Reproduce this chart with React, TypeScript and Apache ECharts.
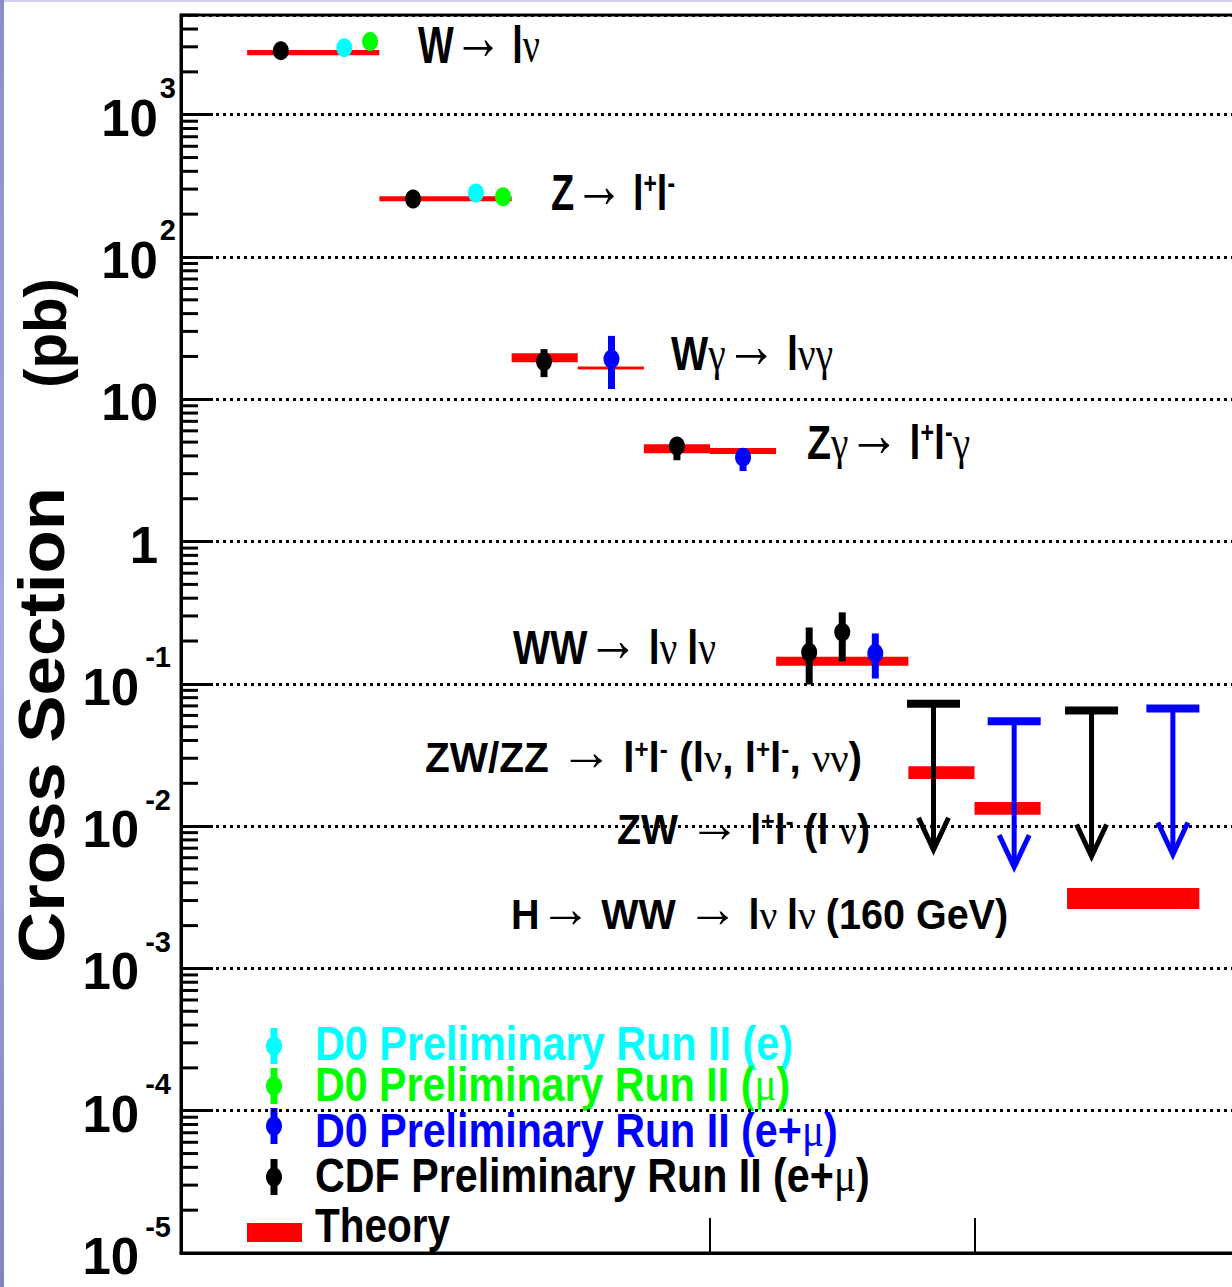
import React, { useEffect, useRef } from 'react';
import * as echarts from 'echarts';

// ---------- axis setup ----------
const X_MIN = 0;
const X_MAX = 16;
const X_TICKS = [8, 12];
const Y_MIN = 1e-5;
const Y_MAX = 5020;
const MINOR_MULT = [2, 3, 4, 5, 6, 7, 8, 9];
const DECADES = [-5, -4, -3, -2, -1, 0, 1, 2, 3];

// ---------- data (cross sections in pb) ----------
// Theory predictions: [xStart, xEnd, low, high]
const theoryBands = [
  [1.0, 3.0, 2622, 2844],      // W -> l nu
  [3.0, 5.0, 246, 267],        // Z -> l+ l-
  [5.0, 6.0, 18.2, 21.1],      // W gamma (CDF)
  [6.0, 7.0, 16.2, 17.0],      // W gamma (D0)
  [7.0, 8.0, 4.17, 4.82],      // Z gamma (CDF)
  [8.0, 9.0, 4.12, 4.54],      // Z gamma (D0)
  [9.0, 11.0, 0.134, 0.155],   // WW
  [11.0, 12.0, 0.0214, 0.0264],// ZW/ZZ
  [12.0, 13.0, 0.0120, 0.0148],// ZW
  [13.4, 15.4, 0.00262, 0.00368], // H -> WW (160 GeV)
];

// Measurements: [x, value, errLow, errHigh]
const cdfPoints = [
  [1.51, 2820, 2820, 2820],
  [3.51, 256, 256, 256],
  [5.49, 18.4, 14.3, 22.5],
  [7.5, 4.69, 3.73, 5.33],
  [9.5, 0.167, 0.099, 0.249],
  [10.0, 0.231, 0.144, 0.318],
];
const d0ePoints = [
  [2.47, 2960, 2960, 2960],
  [4.46, 282, 282, 282],
];
const d0muPoints = [
  [2.86, 3265, 3265, 3265],
  [4.87, 265, 265, 265],
];
const d0emuPoints = [
  [6.51, 19.2, 11.8, 27.9],
  [8.5, 3.92, 3.13, 4.54],
  [10.5, 0.164, 0.109, 0.226],
];

// 95% CL upper limits: [x, limit]
const cdfLimits = [
  [11.38, 0.0724],
  [13.77, 0.065],
];
const d0Limits = [
  [12.6, 0.0547],
  [15.0, 0.0671],
];

const SANS = "'Liberation Sans', Arial, Helvetica, sans-serif";
const SERIF = "'Liberation Serif', 'DejaVu Serif', 'Times New Roman', serif";

const C_BLACK = '#000000';
const C_CYAN = '#00ffff';
const C_GREEN = '#00ff00';
const C_BLUE = '#0000ff';
const C_RED = '#ff0000';

function richFor(size: number) {
  const raise = Math.round(size * 0.32);
  return {
    b: { fontFamily: SANS, fontWeight: 'bold', fontSize: size, lineHeight: size, fill: '#000' },
    s: { fontFamily: SERIF, fontSize: size, lineHeight: size, fill: '#000' },
    a: { fontFamily: SERIF, fontSize: Math.round(size * 1.3), lineHeight: size - raise, padding: [0, 0, raise, 0], fill: '#000' },
    u: { fontFamily: SANS, fontWeight: 'bold', fontSize: Math.round(size * 0.6), lineHeight: Math.round(size * 0.6), verticalAlign: 'top', fill: '#000' },
  } as any;
}

function fitScale(style: any, target: number, fallback: number) {
  try {
    const T: any = (echarts.graphic as any).Text;
    const t = new T({ style });
    const r = t.getBoundingRect();
    if (r && r.width > 1) return target / r.width;
  } catch (e) {
    // ignore
  }
  return fallback;
}

// process labels: [richText, left, centerY, fontSize, targetWidth]
const processLabels: [string, number, number, number, number][] = [
  ['{b|W}{a|→}{s| }{b|l}{s|ν}', 418, 45, 51, 122],
  ['{b|Z}{a|→}{s| }{b|l}{u|+}{b|l}{u|-}', 551, 193, 50, 124],
  ['{b|W}{s|γ}{a|→}{s| }{b|l}{s|νγ}', 671, 353, 49, 162],
  ['{b|Z}{s|γ}{a|→}{s| }{b|l}{u|+}{b|l}{u|-}{s|γ}', 807, 442, 49, 163],
  ['{b|WW}{a|→}{s| }{b|l}{s|ν }{b|l}{s|ν}', 513, 647, 49, 203],
  ['{b|ZW/ZZ }{a|→}{s| }{b|l}{u|+}{b|l}{u|-}{b| (l}{s|ν}{b|, l}{u|+}{b|l}{u|-}{b|, }{s|νν}{b|)}', 425, 758, 42, 437],
  ['{b|ZW }{a|→}{s| }{b|l}{u|+}{b|l}{u|-}{b| (l }{s|ν}{b|)}', 617, 830, 42, 253],
  ['{b|H}{a|→}{s| }{b|WW }{a|→}{s| }{b|l}{s|ν }{b|l}{s|ν }{b|(160 GeV)}', 511, 915, 42, 497],
];

// legend entries: [text, color, markerY, textCenterY, targetWidth]
const legendEntries: [string, string, number, number, number][] = [
  ['{t|D0 Preliminary Run II (e)}', C_CYAN, 1046, 1043, 478],
  ['{t|D0 Preliminary Run II (}{g|μ}{t|)}', C_GREEN, 1086, 1084, 475],
  ['{t|D0 Preliminary Run II (e+}{g|μ}{t|)}', C_BLUE, 1126, 1130, 523],
  ['{t|CDF Preliminary Run II (e+}{g|μ}{t|)}', C_BLACK, 1177, 1175, 555],
];

function errRender(color: string) {
  return (params: any, api: any) => {
    const top = api.coord([api.value(0), api.value(3)]);
    const bot = api.coord([api.value(0), api.value(2)]);
    const h = bot[1] - top[1];
    if (h < 1) return null;
    return {
      type: 'rect',
      shape: { x: top[0] - 3.5, y: top[1], width: 7, height: h },
      style: { fill: color },
    };
  };
}

function limitRender(color: string) {
  return (params: any, api: any) => {
    const p = api.coord([api.value(0), api.value(1)]);
    const L = 146;
    return {
      type: 'group',
      children: [
        { type: 'line', shape: { x1: p[0] - 26.5, y1: p[1], x2: p[0] + 26.5, y2: p[1] }, style: { stroke: color, lineWidth: 8 } },
        { type: 'line', shape: { x1: p[0], y1: p[1], x2: p[0], y2: p[1] + L - 3 }, style: { stroke: color, lineWidth: 5 } },
        {
          type: 'polyline',
          shape: { points: [[p[0] - 15, p[1] + L - 32], [p[0], p[1] + L], [p[0] + 15, p[1] + L - 32]] },
          style: { stroke: color, lineWidth: 5, fill: null, lineJoin: 'miter' },
        },
      ],
    };
  };
}

export default function App() {
  const ref = useRef<HTMLDivElement>(null);

  useEffect(() => {
    if (!ref.current) return;
    const chart = echarts.init(ref.current, null as any, { renderer: 'svg', width: 1232, height: 1287 });

    const minorTicks: number[][] = [];
    DECADES.forEach((d) => {
      MINOR_MULT.forEach((m) => {
        const v = m * Math.pow(10, d);
        if (v < Y_MAX) minorTicks.push([0, v]);
      });
    });

    const graphics: any[] = [];
    // page border strips
    graphics.push({ type: 'rect', left: 0, top: 0, shape: { width: 1232, height: 2 }, style: { fill: '#cfcff5' }, silent: true });
    graphics.push({
      type: 'rect', left: 0, top: 0, shape: { width: 4, height: 1287 },
      style: {
        fill: new (echarts.graphic as any).LinearGradient(0, 0, 0, 1, [
          { offset: 0, color: '#8c8cc8' },
          { offset: 0.5, color: '#a8a8e0' },
          { offset: 1, color: '#8484bc' },
        ]),
      },
      silent: true,
    });

    // axis title
    const titleStyle = { text: 'Cross Section', fontFamily: SANS, fontWeight: 'bold', fontSize: 64, fill: '#000', align: 'center', verticalAlign: 'middle' };
    const titleScale = fitScale(titleStyle, 476, 1.1);
    graphics.push({ type: 'text', x: 42, y: 725, rotation: Math.PI / 2, scaleX: titleScale, style: titleStyle, silent: true });
    const unitStyle = { text: '(pb)', fontFamily: SANS, fontWeight: 'bold', fontSize: 60, fill: '#000', align: 'center', verticalAlign: 'middle' };
    const unitScale = fitScale(unitStyle, 110, 1.0);
    graphics.push({ type: 'text', x: 45, y: 333, rotation: Math.PI / 2, scaleX: unitScale, style: unitStyle, silent: true });

    // process labels
    processLabels.forEach(([txt, x, y, size, w]) => {
      const style = { text: txt, rich: richFor(size), fontFamily: SANS, fontSize: size, align: 'left', verticalAlign: 'middle', fill: '#000' };
      const sx = fitScale(style, w, 0.85);
      graphics.push({ type: 'text', x, y, scaleX: sx, style, silent: true });
    });

    // legend
    legendEntries.forEach(([txt, color, my, ty, w]) => {
      graphics.push({ type: 'rect', shape: { x: 274 - 3.5, y: my - 18, width: 7, height: 36 }, style: { fill: color }, silent: true });
      graphics.push({ type: 'ellipse', shape: { cx: 274, cy: my, rx: 8, ry: 9.5 }, style: { fill: color }, silent: true });
      const style = {
        text: txt,
        rich: {
          t: { fontFamily: SANS, fontWeight: 'bold', fontSize: 48, lineHeight: 48, fill: color },
          g: { fontFamily: SERIF, fontSize: 48, lineHeight: 48, fill: color },
        },
        fontSize: 48,
        align: 'left',
        verticalAlign: 'middle',
        fill: color,
      };
      const sx = fitScale(style, w, 0.86);
      graphics.push({ type: 'text', x: 315, y: ty, scaleX: sx, style, silent: true });
    });
    graphics.push({ type: 'rect', shape: { x: 247, y: 1223, width: 55, height: 19 }, style: { fill: C_RED }, silent: true });
    const thStyle = { text: 'Theory', fontFamily: SANS, fontWeight: 'bold', fontSize: 48, fill: '#000', align: 'left', verticalAlign: 'middle' };
    graphics.push({ type: 'text', x: 315, y: 1225, scaleX: fitScale(thStyle, 135, 0.86), style: thStyle, silent: true });

    const option: any = {
      animation: false,
      backgroundColor: '#ffffff',
      grid: {
        left: 181,
        top: 15,
        width: 1058,
        height: 1238,
        outerBoundsMode: 'none',
        containLabel: false,
        show: true,
        borderColor: '#000',
        borderWidth: 3,
        backgroundColor: 'transparent',
      },
      xAxis: {
        type: 'value',
        min: X_MIN,
        max: X_MAX,
        axisLine: { show: true, onZero: false, lineStyle: { color: '#000', width: 3 } },
        axisTick: { show: true, inside: true, length: 35, customValues: X_TICKS, lineStyle: { color: '#000', width: 2 } },
        axisLabel: { show: false },
        splitLine: { show: false },
      },
      yAxis: {
        type: 'log',
        logBase: 10,
        min: Y_MIN,
        max: Y_MAX,
        splitNumber: 10,
        axisLine: { show: true, lineStyle: { color: '#000', width: 3 } },
        axisTick: { show: true, inside: true, length: 32, lineStyle: { color: '#000', width: 3 } },
        splitLine: { show: true, lineStyle: { color: '#000', width: 3, type: [3, 4] } },
        axisLabel: {
          show: true,
          margin: 5,
          showMaxLabel: false,
          formatter: (v: number) => {
            const lg = Math.log10(v);
            const e = Math.round(lg);
            if (Math.abs(lg - e) > 1e-6) return '';
            if (e === 0) return '{b|1}{pad|}';
            if (e === 1) return '{b|10}{pad|}';
            if (e < 0) return `{b|10}{n|${e}}`;
            return `{b|10}{s|${e}}`;
          },
          rich: {
            b: { fontFamily: SANS, fontWeight: 'bold', fontSize: 51, lineHeight: 51, color: '#000', padding: [19, 0, 12, 0] },
            s: { fontFamily: SANS, fontWeight: 'bold', fontSize: 29, lineHeight: 29, color: '#000', padding: [0, 0, 53, 2] },
            n: { fontFamily: SANS, fontWeight: 'bold', fontSize: 29, lineHeight: 29, color: '#000', padding: [0, 5, 53, 6] },
            pad: { width: 18 },
          },
        },
      },
      graphic: graphics,
      series: [
        {
          type: 'custom',
          name: 'minor ticks',
          silent: true,
          z: 5,
          data: minorTicks,
          encode: { x: 0, y: 1 },
          renderItem: (params: any, api: any) => {
            const p = api.coord([api.value(0), api.value(1)]);
            return { type: 'line', shape: { x1: p[0], y1: p[1], x2: p[0] + 17, y2: p[1] }, style: { stroke: '#000', lineWidth: 3 } };
          },
        },
        {
          type: 'custom',
          name: 'Theory',
          z: 2,
          data: theoryBands,
          encode: { x: [0, 1], y: [2, 3] },
          renderItem: (params: any, api: any) => {
            const p0 = api.coord([api.value(0), api.value(3)]);
            const p1 = api.coord([api.value(1), api.value(2)]);
            return { type: 'rect', shape: { x: p0[0], y: p0[1], width: p1[0] - p0[0], height: p1[1] - p0[1] }, style: { fill: C_RED } };
          },
        },
        { type: 'custom', name: 'CDF err', z: 3, data: cdfPoints, encode: { x: 0, y: [1, 2, 3] }, renderItem: errRender(C_BLACK) },
        { type: 'custom', name: 'D0 e+mu err', z: 3, data: d0emuPoints, encode: { x: 0, y: [1, 2, 3] }, renderItem: errRender(C_BLUE) },
        { type: 'scatter', name: 'CDF Preliminary Run II (e+μ)', z: 4, symbol: 'circle', symbolSize: [16, 19], itemStyle: { color: C_BLACK, opacity: 1 }, data: cdfPoints.map((p) => [p[0], p[1]]) },
        { type: 'scatter', name: 'D0 Preliminary Run II (e)', z: 4, symbol: 'circle', symbolSize: [16, 19], itemStyle: { color: C_CYAN, opacity: 1 }, data: d0ePoints.map((p) => [p[0], p[1]]) },
        { type: 'scatter', name: 'D0 Preliminary Run II (μ)', z: 4, symbol: 'circle', symbolSize: [16, 19], itemStyle: { color: C_GREEN, opacity: 1 }, data: d0muPoints.map((p) => [p[0], p[1]]) },
        { type: 'scatter', name: 'D0 Preliminary Run II (e+μ)', z: 4, symbol: 'circle', symbolSize: [16, 19], itemStyle: { color: C_BLUE, opacity: 1 }, data: d0emuPoints.map((p) => [p[0], p[1]]) },
        { type: 'custom', name: 'CDF limits', z: 4, data: cdfLimits, encode: { x: 0, y: 1 }, renderItem: limitRender(C_BLACK) },
        { type: 'custom', name: 'D0 limits', z: 4, data: d0Limits, encode: { x: 0, y: 1 }, renderItem: limitRender(C_BLUE) },
      ],
    };

    chart.setOption(option);
    return () => {
      chart.dispose();
    };
  }, []);

  return (
    <div
      ref={ref}
      style={{ position: 'absolute', left: 0, top: 0, width: 1232, height: 1287, background: '#ffffff' }}
    />
  );
}
